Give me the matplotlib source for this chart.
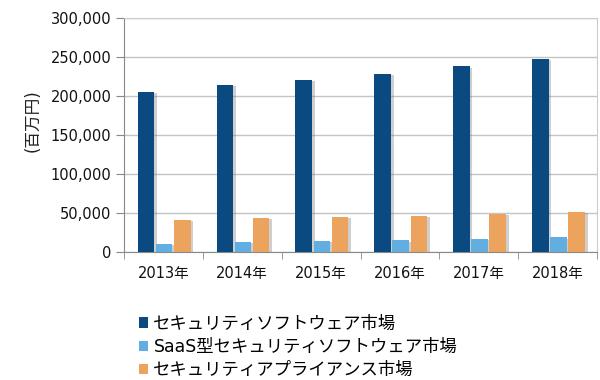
import numpy as np
import matplotlib
matplotlib.use("Agg")
import matplotlib.pyplot as plt
import matplotlib.patheffects as pe
from matplotlib.patches import Patch
from matplotlib.ticker import FuncFormatter, MultipleLocator

plt.rcParams['font.family'] = ['DejaVu Sans', 'Noto Sans CJK JP']

years = ["2013年", "2014年", "2015年", "2016年", "2017年", "2018年"]
software = [205000, 214000, 221000, 228500, 238000, 248000]
saas = [10800, 12800, 14100, 15000, 16700, 18800]
appliance = [41000, 43600, 44900, 46200, 48700, 51800]

series_names = ["セキュリティソフトウェア市場",
                "SaaS型セキュリティソフトウェア市場",
                "セキュリティアプライアンス市場"]
colors = ["#0b4a80", "#63aee0", "#eca35e"]

fig = plt.figure(figsize=(6, 3.8), dpi=100)
ax = fig.add_axes([124 / 600, 1 - 252 / 380, 473 / 600, 234 / 380])

x = np.arange(len(years))
w = 0.21
shadow = [pe.SimplePatchShadow(offset=(2, -1), shadow_rgbFace="#777777", alpha=0.35), pe.Normal()]
for i, (vals, c) in enumerate(zip([software, saas, appliance], colors)):
    bars = ax.bar(x + (i - 1) * (w + 0.02) + 0.01, vals, w, color=c, zorder=3)
    for b in bars:
        b.set_path_effects(shadow)

ax.set_xlim(-0.5, len(years) - 0.5)
ax.set_ylim(0, 300000)
ax.yaxis.set_major_locator(MultipleLocator(50000))
ax.yaxis.set_major_formatter(FuncFormatter(lambda v, p: f"{int(v):,}"))
ax.grid(axis="y", color="#c4c4c4", linewidth=1, zorder=0)

ax.set_xticks(x)
ax.set_xticklabels(years)
ax.set_xticks(np.arange(-0.5, len(years)), minor=True)
ax.tick_params(axis="x", which="major", length=0, pad=10, labelsize=10.5)
ax.tick_params(axis="x", which="minor", length=5, color="#888888")
ax.tick_params(axis="y", length=6, color="#888888", pad=3, labelsize=10.5)
for lab in ax.get_xticklabels() + ax.get_yticklabels():
    lab.set_color("#111111")

for side in ["top", "right"]:
    ax.spines[side].set_color("#cccccc")
ax.spines["left"].set_color("#888888")
ax.spines["bottom"].set_color("#888888")

ax.set_ylabel("(百万円)", fontsize=12, color="#222222")
ax.yaxis.set_label_coords(-0.175, 0.56)

handles = [Patch(facecolor=c, label=n) for c, n in zip(colors, series_names)]
fig.legend(handles=handles, loc="upper left", bbox_to_anchor=(130 / 600, 1 - 306 / 380), frameon=False,
           fontsize=12.5, handlelength=0.55, handleheight=0.55, handletextpad=0.3,
           labelspacing=0.3, borderpad=0)

fig.savefig("out.png", dpi=100)
